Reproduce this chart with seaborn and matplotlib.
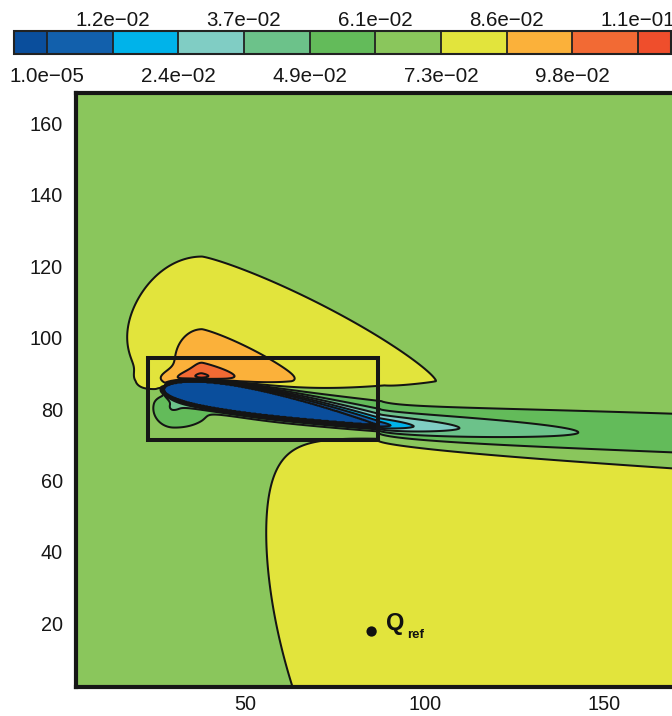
import numpy as np
import matplotlib
matplotlib.use("Agg")
import matplotlib.pyplot as plt
import seaborn as sns
from matplotlib.patches import Rectangle
from matplotlib.ticker import MultipleLocator

# ---------------- data ----------------
levels = [1.0e-5, 0.01225, 0.0245, 0.03675, 0.049, 0.06125, 0.0735, 0.08575, 0.098, 0.11025]
under_color = "#0a4e9c"
band_colors = ["#1260ac", "#00b3ea", "#80cdc4", "#6cc28a", "#63bb5a",
               "#8ac65c", "#e2e43c", "#fbb13a", "#f26a34"]
over_color = "#ef4e2c"
top_labels = ["1.2e\u221202", "3.7e\u221202", "6.1e\u221202", "8.6e\u221202", "1.1e\u221201"]
bottom_labels = ["1.0e\u221205", "2.4e\u221202", "4.9e\u221202", "7.3e\u221202", "9.8e\u221202"]
x_ticks = [50, 100, 150]
y_ticks = [20, 40, 60, 80, 100, 120, 140, 160]

# flow-field features (estimated from the contour shapes)
background = 0.067
leading_edge = [27.4, 85.6]
trailing_edge = [87.0, 75.5]
thickness = 0.12
camber = [0.012, 0.4]
bl_upper = [0.4, 3.3]          # boundary-layer scale: at LE, growth ~ t^2
bl_lower = [0.6, 0.4]
bl_power = 1.3
wake_turn = 0.128
wake_decay = [19.2, 0.9]
wake_width_up = [3.7, 0.04]
wake_width_lo = [1.0, 0.6]
suction_center = [38.0, 87.8]
suction_amp = 0.040
suction_lx_left = [9.0, 4.2, 12.0]
suction_lx_right = 36.0
suction_ly = [19.2, 3.0, 0.1]
suction_shape = [2.0, 1.2]
ridge_center = [34.0, 88.2]
ridge_amp = 0.015
ridge_scale = [9.5, 2.6]
pressure_center = [30.0, 81.5]
pressure_amp = 0.024
pressure_lx = [6.0, 10.0]
pressure_ly = [6.0, 4.0]
lower_amp = 0.011
lower_left = [63.45, -0.3275, 0.00311]
lower_top = [72.6, 0.075, 87.0]
lower_round = 5.0

box_corner = [23.0, 71.4]
box_size = [64.0, 22.8]
q_ref = [85.2, 17.7]

xlim = (2.8, 170.8)
ylim = (2.16, 168.4)

# ---------------- build the field ----------------
xs = np.linspace(xlim[0], xlim[1], 900)
ys = np.linspace(ylim[0], ylim[1], 900)
X, Y = np.meshgrid(xs, ys)

le = np.array(leading_edge)
te = np.array(trailing_edge)
cv = te - le
L = np.hypot(*cv)
ux, uy = cv / L
dx = X - le[0]
dy = Y - le[1]
s = dx * ux + dy * uy
n = -dx * uy + dy * ux
t = np.clip(s / L, 0, 1)
yt = 5 * thickness * L * (0.2969 * np.sqrt(t) - 0.126 * t - 0.3516 * t**2
                          + 0.2843 * t**3 - 0.1015 * t**4)
m, p = camber
yc = np.where(t < p, m / p**2 * (2 * p * t - t**2),
              m / (1 - p)**2 * ((1 - 2 * p) + 2 * p * t - t**2)) * L
rel = n - yc
dn = np.maximum(np.abs(rel) - yt, 0)
ds = s - t * L
dist = np.hypot(ds, dn)
delta = np.where(rel >= 0, bl_upper[0] + bl_upper[1] * t**2, bl_lower[0] + bl_lower[1] * t)
h = 1 - np.exp(-(dist / delta)**bl_power)
h = np.where(s > L, 1.0, h)

sp = np.maximum(s - L, 0)
nw = n - wake_turn * sp
Dw = 1 / (1 + (sp / wake_decay[0])**wake_decay[1])
wu = wake_width_up[0] + wake_width_up[1] * sp
wl = wake_width_lo[0] + wake_width_lo[1] * np.sqrt(sp)
ww = np.where(nw >= 0, wu, wl)
q = bl_power + (2 - bl_power) * sp / (sp + 10)
E = np.exp(-(np.abs(nw) / ww)**q)
W = np.where(s > L, 1 - Dw * E, 1.0)

ddx = X - suction_center[0]
ddy = Y - suction_center[1]
lam_x = np.where(ddx < 0,
                 suction_lx_left[0] + suction_lx_left[1]
                 * np.tanh(np.maximum(ddy, 0) / suction_lx_left[2]),
                 suction_lx_right)
lam_y = np.where(ddy > 0, suction_ly[0],
                 suction_ly[1] + suction_ly[2] * np.maximum(-ddx, 0))
pn = np.where(ddx < 0, suction_shape[0], suction_shape[1])
r = (np.abs(ddx / lam_x)**pn + np.abs(ddy / lam_y)**pn)**(1 / pn)
blob = suction_amp * np.exp(-r)
ridge = ridge_amp * np.exp(-((X - ridge_center[0]) / ridge_scale[0])**2
                           - ((Y - ridge_center[1]) / ridge_scale[1])**2)

ex = X - pressure_center[0]
ey = Y - pressure_center[1]
plx = np.where(ex < 0, pressure_lx[0], pressure_lx[1])
ply = np.where(ey < 0, pressure_ly[0], pressure_ly[1])
dip = -pressure_amp * np.exp(-((ex / plx)**2 + (ey / ply)**2))

xl = lower_left[0] + lower_left[1] * Y + lower_left[2] * Y**2
yb = lower_top[0] - lower_top[1] * np.maximum(X - lower_top[2], 0)
a = (X - xl) / 1.2
b = (yb - Y) / 2.0
c = -lower_round * np.logaddexp(-a / lower_round, -b / lower_round)
M = 1 / (1 + np.exp(-c))

U = background + blob + ridge + dip + lower_amp * M
F = U * h * W

# ---------------- draw ----------------
sns.set_theme(style="ticks")
plt.rcParams["font.family"] = ["Liberation Sans", "DejaVu Sans"]

fig = plt.figure(figsize=(6.72, 7.16), dpi=100)
ax = fig.add_axes([75.5 / 672, 29 / 716, 603.7 / 672, 593.7 / 716])

cf = ax.contourf(X, Y, F, levels=levels, colors=[under_color] + band_colors + [over_color],
                 extend="both")
ax.contour(X, Y, F, levels=levels, colors="#141414", linewidths=1.45)

ax.add_patch(Rectangle(box_corner, box_size[0], box_size[1], fill=False,
                       lw=2.9, ec="#161616", zorder=5))

sns.scatterplot(x=[q_ref[0]], y=[q_ref[1]], color="#111111", s=55, ax=ax,
                edgecolor="none", zorder=6, legend=False)
ax.text(q_ref[0] + 4.0, q_ref[1] + 0.4, "Q", fontsize=17, fontweight="bold",
        color="#111111", va="baseline", ha="left", zorder=6)
ax.text(q_ref[0] + 9.9, q_ref[1] - 1.9, "ref", fontsize=9.5, fontweight="bold",
        color="#111111", va="baseline", ha="left", zorder=6)

ax.set_xlim(*xlim)
ax.set_ylim(*ylim)
ax.set_xticks(x_ticks)
ax.set_yticks(y_ticks)
ax.xaxis.set_minor_locator(MultipleLocator(10))
ax.yaxis.set_minor_locator(MultipleLocator(4))
ax.tick_params(which="major", direction="in", length=10, width=2.5, labelsize=14.3,
               color="#161616", labelcolor="#161616")
ax.tick_params(which="minor", direction="in", length=6, width=1.5, color="#161616")
ax.tick_params(axis="y", which="major", pad=9)
ax.tick_params(axis="x", which="major", pad=6)
ax.tick_params(top=False, right=False, which="both")
for side in ["left", "bottom", "top"]:
    ax.spines[side].set_linewidth(3)
    ax.spines[side].set_color("#161616")
ax.spines["right"].set_visible(False)
ax.set_xlabel("")
ax.set_ylabel("")

cax = fig.add_axes([14 / 672, (716 - 54) / 716, 657 / 672, 23 / 716])
cb = fig.colorbar(cf, cax=cax, orientation="horizontal", extendrect=True,
                  extendfrac=0.5 / 9, drawedges=True)
cb.outline.set_linewidth(1.5)
cb.outline.set_edgecolor("#222222")
cb.dividers.set_color("#222222")
cb.dividers.set_linewidth(1.3)
cb.set_ticks([])
cax.tick_params(length=0)
tr = cax.get_xaxis_transform()
for lev, lab in zip(levels[1::2], top_labels):
    cax.text(lev, 1.22, lab, transform=tr, ha="center", va="baseline",
             fontsize=14.8, color="#161616", clip_on=False)
for lev, lab in zip(levels[0::2], bottom_labels):
    cax.text(lev, -1.2, lab, transform=tr, ha="center", va="baseline",
             fontsize=14.8, color="#161616", clip_on=False)

fig.savefig("out.png", dpi=100)
